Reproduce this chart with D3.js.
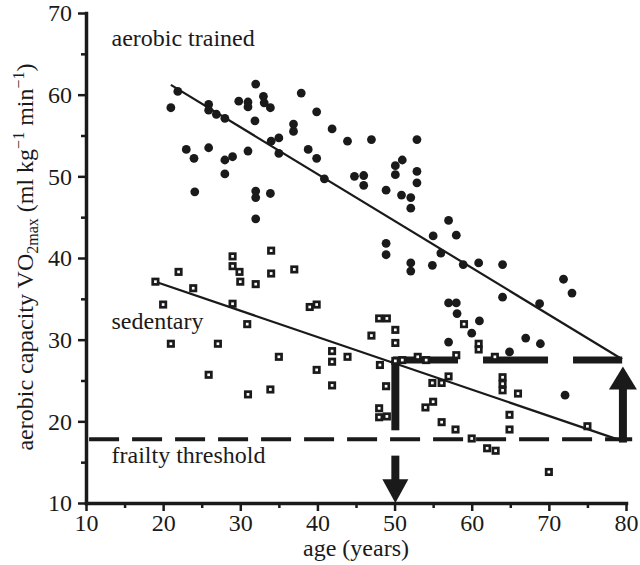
<!DOCTYPE html>
<html><head><meta charset="utf-8">
<script src="https://cdn.jsdelivr.net/npm/d3@7"></script>
<style>
body{margin:0;background:#fff}
svg{display:block}
text{font-family:"Liberation Serif","Times New Roman",serif;fill:#1a1a1a}
</style></head>
<body><svg id="c" width="640" height="565"></svg>
<script>
// ---- data ----
const trainedAge = [21.0,21.9,23.0,24.0,24.1,25.9,25.9,25.9,26.9,28.0,28.0,28.0,29.0,29.8,31.0,31.0,31.0,32.0,31.9,32.0,32.0,32.0,33.0,33.1,33.9,34.0,33.9,35.0,35.0,36.9,36.9,37.9,38.8,39.9,39.9,41.9,43.9,47.0,52.9,40.9,44.8,46.0,46.0,48.9,50.1,50.1,51.0,50.9,52.1,52.1,52.9,52.9,57.0,55.0,58.0,56.0,48.9,48.9,52.1,52.1,54.9,58.9,60.9,64.0,71.9,57.0,58.0,58.1,64.0,68.8,73.0,61.0,60.0,57.0,67.0,68.9,64.9,72.1];
const trainedVO2 = [58.4,60.4,53.3,52.2,48.1,58.8,58.1,53.5,57.6,57.1,52.0,50.3,52.4,59.2,59.1,58.5,53.1,61.3,56.8,48.2,47.4,44.8,59.8,59.0,58.4,54.3,47.9,54.7,52.8,56.4,55.5,60.2,53.3,57.9,52.2,55.8,54.3,54.5,54.5,49.7,50.0,50.1,48.9,48.3,51.3,50.2,52.0,47.7,47.4,46.1,50.6,49.2,44.6,42.7,42.8,40.6,41.8,40.4,39.4,38.4,39.1,39.2,39.4,39.2,37.4,34.5,34.5,33.2,35.2,34.4,35.7,32.3,30.8,29.7,30.2,29.5,28.5,23.2];
const sedentaryAge = [19.0,22.0,23.9,20.0,29.0,29.0,29.9,30.0,32.0,29.0,34.0,34.0,37.0,30.9,21.0,27.1,25.9,35.0,31.0,33.9,39.0,39.9,39.9,41.9,41.9,43.9,41.9,48.0,49.0,50.1,50.1,47.0,48.1,48.9,48.0,48.0,49.0,50.1,51.0,53.0,54.1,54.9,56.1,57.0,54.0,55.0,56.1,57.9,59.0,60.9,60.9,58.0,63.0,64.0,64.0,64.0,66.0,60.0,62.0,63.1,64.9,64.9,70.0,75.0];
const sedentaryVO2 = [37.1,38.3,36.3,34.3,40.2,39.0,38.3,37.1,36.8,34.4,40.9,38.1,38.6,31.9,29.5,29.5,25.7,27.9,23.3,23.9,34.0,34.3,26.3,28.6,27.3,27.9,24.4,32.6,32.6,31.2,29.6,30.5,26.9,24.3,21.6,20.5,20.6,27.4,27.5,27.9,27.5,24.7,24.7,25.5,21.7,22.4,19.9,19.0,31.9,29.5,28.8,28.1,27.9,25.4,24.6,23.8,23.4,17.9,16.7,16.4,20.8,19.0,13.8,19.4];
const trainedFitAge = [21, 79.5], trainedFitVO2 = [61.2, 27.6];
const sedentaryFitAge = [19, 79.2], sedentaryFitVO2 = [37.1, 17.7];
const frailtyThreshold = 17.8;
const trainedAt80 = 27.5;
const xTicks = [10,20,30,40,50,60,70,80];
const xMinor = [15,25,35,45,55,65,75];
const yTicks = [10,20,30,40,50,60,70];
const yMinor = [15,25,35,45,55,65];
const labels = ["aerobic trained","sedentary","frailty threshold"];

// ---- chart ----
const svg = d3.select("#c");
const x = d3.scaleLinear([10,80],[86,626]);
const y = d3.scaleLinear([10,70],[503,13]);
const ink = "#1a1a1a";

// annotation: frailty threshold
svg.append("line").attr("x1",x(10.4)).attr("x2",x(80.8))
  .attr("y1",y(frailtyThreshold)).attr("y2",y(frailtyThreshold))
  .attr("stroke",ink).attr("stroke-width",4).attr("stroke-dasharray","30,13");

// thick dashed horizontal at trained level
svg.append("line").attr("x1",x(49.8)).attr("x2",x(79.5))
  .attr("y1",y(trainedAt80)).attr("y2",y(trainedAt80))
  .attr("stroke",ink).attr("stroke-width",7).attr("stroke-dasharray","65,25");
// vertical segment at age 50
svg.append("line").attr("x1",x(50.1)).attr("x2",x(50.1))
  .attr("y1",y(trainedAt80)).attr("y2",y(18.9))
  .attr("stroke",ink).attr("stroke-width",8);
// down arrow at 50
svg.append("line").attr("x1",x(50.1)).attr("x2",x(50.1))
  .attr("y1",y(15.8)).attr("y2",y(12.6))
  .attr("stroke",ink).attr("stroke-width",8);
svg.append("path").attr("fill",ink)
  .attr("d",`M${x(50.1)-13},${y(12.9)}L${x(50.1)+13},${y(12.9)}L${x(50.1)},${y(10)}Z`);
// up arrow at 80
svg.append("line").attr("x1",x(79.6)).attr("x2",x(79.6))
  .attr("y1",y(17.4)).attr("y2",y(24.2))
  .attr("stroke",ink).attr("stroke-width",8);
svg.append("path").attr("fill",ink)
  .attr("d",`M${x(79.6)-14},${y(23.9)}L${x(79.6)+14},${y(23.9)}L${x(79.6)},${y(26.7)}Z`);

// regression lines
const line = d3.line().x(d=>x(d[0])).y(d=>y(d[1]));
svg.append("path").attr("d",line(d3.zip(trainedFitAge,trainedFitVO2)))
  .attr("stroke",ink).attr("stroke-width",2.2).attr("fill","none");
svg.append("path").attr("d",line(d3.zip(sedentaryFitAge,sedentaryFitVO2)))
  .attr("stroke",ink).attr("stroke-width",2.2).attr("fill","none");

// points
svg.append("g").selectAll("circle").data(d3.zip(trainedAge,trainedVO2)).join("circle")
  .attr("cx",d=>x(d[0])).attr("cy",d=>y(d[1])).attr("r",4.4).attr("fill",ink);
svg.append("g").selectAll("rect").data(d3.zip(sedentaryAge,sedentaryVO2)).join("rect")
  .attr("x",d=>x(d[0])-2.7).attr("y",d=>y(d[1])-2.7).attr("width",5.4).attr("height",5.4)
  .attr("fill","#fff").attr("stroke",ink).attr("stroke-width",2.7);

// axes
function styleAxis(g){
  g.select(".domain").attr("stroke",ink).attr("stroke-width",3.5).attr("stroke-linecap","square");
  g.selectAll(".tick line").attr("stroke",ink).attr("stroke-width",2.5);
  g.selectAll(".tick text").attr("font-size",24).attr("fill",ink)
    .attr("font-family",'"Liberation Serif","Times New Roman",serif');
}
const gy = svg.append("g").attr("transform",`translate(${x(10)},0)`)
  .call(d3.axisLeft(y).tickValues(yTicks).tickSize(8).tickSizeOuter(0).tickPadding(6).tickFormat(d3.format("d")));
styleAxis(gy);
const gyM = svg.append("g").attr("transform",`translate(${x(10)},0)`)
  .call(d3.axisLeft(y).tickValues(yMinor).tickSize(5).tickFormat(""));
gyM.select(".domain").remove(); styleAxis(gyM);
const gx = svg.append("g").attr("transform",`translate(0,${y(10)})`)
  .call(d3.axisBottom(x).tickValues(xTicks).tickSize(8).tickSizeOuter(0).tickPadding(3).tickFormat(d3.format("d")));
styleAxis(gx);
const gxM = svg.append("g").attr("transform",`translate(0,${y(10)})`)
  .call(d3.axisBottom(x).tickValues(xMinor).tickSize(5).tickFormat(""));
gxM.select(".domain").remove(); styleAxis(gxM);

// labels
svg.append("text").attr("x",111.5).attr("y",45.5).attr("font-size",24).text(labels[0]);
svg.append("text").attr("x",111.5).attr("y",329.3).attr("font-size",24).text(labels[1]);
svg.append("text").attr("x",111.5).attr("y",463.3).attr("font-size",24).text(labels[2]);

svg.append("text").attr("x",356).attr("y",556).attr("text-anchor","middle")
  .attr("font-size",24).text("age (years)");

const yt = svg.append("text").attr("transform","translate(33,257) rotate(-90)")
  .attr("text-anchor","middle").attr("font-size",24);
yt.append("tspan").text("aerobic capacity VO");
yt.append("tspan").attr("font-size",16).attr("dy",5).text("2max");
yt.append("tspan").attr("dy",-5).text(" (ml kg");
yt.append("tspan").attr("font-size",16).attr("dy",-9).text("−1");
yt.append("tspan").attr("dy",9).text(" min");
yt.append("tspan").attr("font-size",16).attr("dy",-9).text("−1");
yt.append("tspan").attr("dy",9).text(")");
</script></body></html>
